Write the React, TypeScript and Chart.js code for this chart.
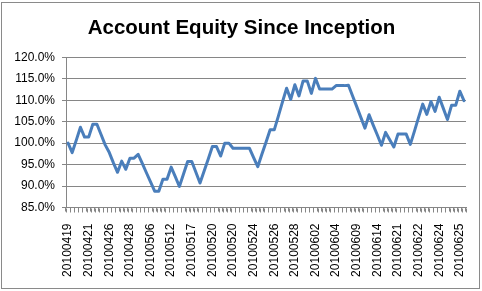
import React, { useEffect, useRef } from "react";
import { Chart, registerables } from "chart.js";

Chart.register(...registerables);

const tickLabels = [
  "20100419", "20100421", "20100426", "20100428", "20100506",
  "20100512", "20100517", "20100520", "20100520", "20100524",
  "20100526", "20100528", "20100602", "20100604", "20100609",
  "20100614", "20100621", "20100622", "20100624", "20100625",
];

const equity = [
  100.0, 97.8, 100.7, 103.7, 101.4, 101.4, 104.4, 104.4, 102.0, 99.6,
  97.8, 95.4, 93.2, 95.8, 93.9, 96.5, 96.5, 97.4, 95.3, 93.1,
  91.0, 88.8, 88.8, 91.6, 91.6, 94.4, 92.2, 89.9, 92.8, 95.7,
  95.7, 93.2, 90.7, 93.5, 96.3, 99.2, 99.2, 97.0, 100.0, 100.0,
  98.8, 98.8, 98.8, 98.8, 98.8, 96.6, 94.5, 97.4, 100.2, 103.1,
  103.1, 106.3, 109.6, 112.8, 110.2, 113.6, 111.0, 114.5, 114.5, 111.6,
  115.1, 112.6, 112.6, 112.6, 112.6, 113.4, 113.4, 113.4, 113.5, 111.0,
  108.5, 106.0, 103.5, 106.6, 104.2, 101.9, 99.5, 102.5, 100.8, 99.1,
  102.1, 102.1, 102.1, 99.7, 102.8, 106.0, 109.1, 106.7, 109.7, 107.4,
  110.7, 108.1, 105.5, 108.8, 108.8, 112.1, 109.9,
];

const chartTitle = "Account Equity Since Inception";

const labelEvery = 5;
const categories = equity.map((_, i) =>
  i % labelEvery === 0 ? tickLabels[i / labelEvery] ?? "" : ""
);

const GRAY = "#868686";
const FONT = "'Liberation Sans', Arial, sans-serif";

const decorPlugin = {
  id: "decor",
  afterDraw(chart: any) {
    const ctx = chart.ctx;
    const xs = chart.scales.x;
    const ys = chart.scales.y;
    ctx.save();
    // category tick marks below the horizontal axis
    ctx.strokeStyle = GRAY;
    ctx.lineWidth = 1;
    const n = categories.length;
    const step = n > 1 ? xs.getPixelForValue(1) - xs.getPixelForValue(0) : 0;
    const yb = Math.round(ys.bottom) + 0.5;
    ctx.beginPath();
    for (let i = 0; i <= n; i++) {
      const px = Math.round(xs.getPixelForValue(0) - step / 2 + i * step) + 0.5;
      ctx.moveTo(px, yb);
      ctx.lineTo(px, yb + 4);
    }
    ctx.stroke();
    // outer chart border
    ctx.strokeStyle = "#8a8a8a";
    ctx.strokeRect(1.5, 2.5, 478, 286);
    // title
    ctx.fillStyle = "#000";
    ctx.font = `bold 20.5px ${FONT}`;
    ctx.textAlign = "center";
    ctx.textBaseline = "alphabetic";
    ctx.fillText(chartTitle, 241.5, 34.3);
    ctx.restore();
  },
};

export default function App() {
  const ref = useRef<HTMLCanvasElement>(null);

  useEffect(() => {
    if (!ref.current) return;
    const chart = new Chart(ref.current, {
      type: "line",
      data: {
        labels: categories,
        datasets: [
          {
            data: equity,
            borderColor: "#4A7EBB",
            borderWidth: 3,
            pointRadius: 0,
            tension: 0,
            borderJoinStyle: "round",
            borderCapStyle: "round",
            fill: false,
          },
        ],
      },
      options: {
        animation: false,
        responsive: false,
        devicePixelRatio: 1,
        layout: { padding: { left: 0, right: 16, top: 57.3, bottom: 0 } },
        plugins: {
          legend: { display: false },
          tooltip: { enabled: false },
          title: { display: false },
        },
        scales: {
          x: {
            type: "category",
            offset: true,
            grid: {
              drawOnChartArea: false,
              drawTicks: true,
              tickLength: 4,
              offset: true,
              color: GRAY,
              lineWidth: 1,
            },
            border: { display: true, color: GRAY },
            ticks: {
              autoSkip: false,
              maxRotation: 90,
              minRotation: 90,
              padding: 12,
              color: "#000",
              font: { family: FONT, size: 12 },
            },
            afterFit(scale: any) {
              scale.height = 83.5;
              scale.paddingLeft = 0;
              scale.paddingRight = 0;
            },
          },
          y: {
            min: 85,
            max: 120,
            grid: { color: GRAY, tickLength: 4 },
            border: { display: true, color: GRAY },
            ticks: {
              stepSize: 5,
              padding: 7,
              color: "#000",
              font: { family: FONT, size: 12 },
              callback: (v: any) => Number(v).toFixed(1) + "%",
            },
            afterFit(scale: any) {
              scale.width = 66;
              scale.paddingTop = 0;
              scale.paddingBottom = 0;
            },
          },
        },
      },
      plugins: [decorPlugin],
    });
    return () => chart.destroy();
  }, []);

  return (
    <div style={{ position: "fixed", left: 0, top: 0, width: 482, height: 291, background: "#fff" }}>
      <canvas ref={ref} width={482} height={291} />
    </div>
  );
}
